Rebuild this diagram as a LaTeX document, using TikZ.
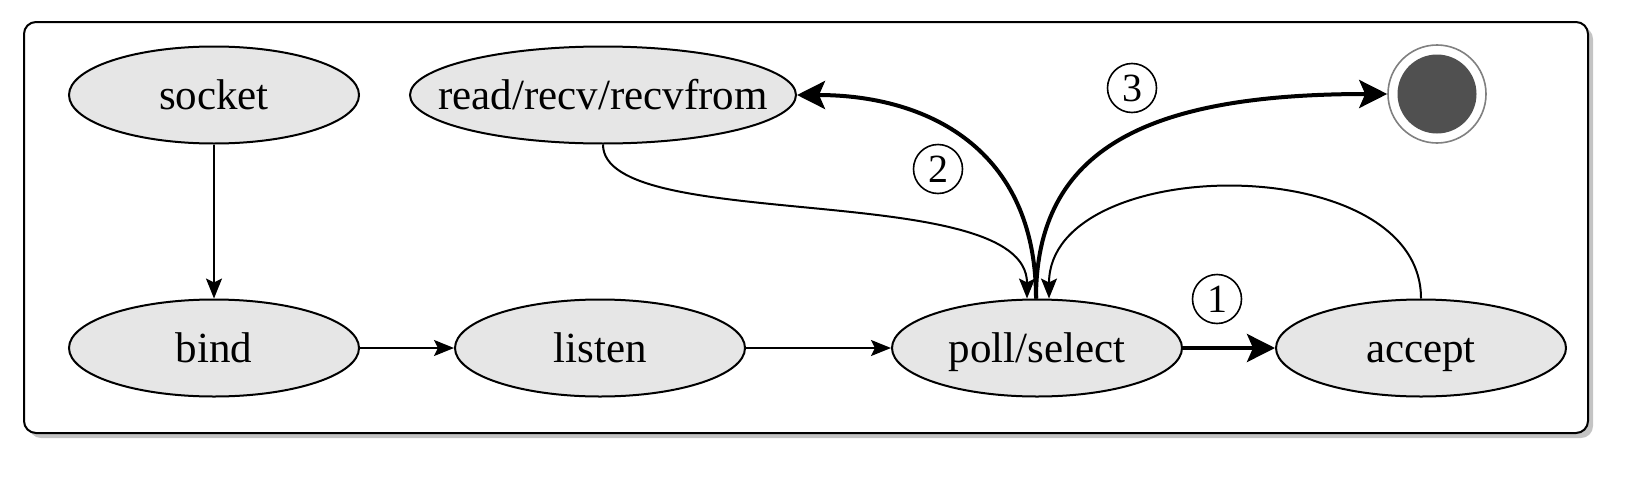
\documentclass[tikz,border=0pt]{standalone}
\usepackage{fontspec}
\setmainfont{Liberation Serif}
\usetikzlibrary{shapes.geometric,arrows.meta}
\definecolor{nodefill}{HTML}{E6E6E6}
\definecolor{endfill}{HTML}{505050}
\definecolor{endring}{HTML}{808080}
\definecolor{shadowc}{HTML}{C4C4C4}
\newcommand\zw[1]{\makebox[0pt]{#1}}
\begin{document}
\begin{tikzpicture}[x=0.5pt,y=-0.5pt,
  st/.style={ellipse,draw,line width=1pt,fill=nodefill,minimum width=145pt,minimum height=48.5pt,inner sep=0pt,text height=16pt,text depth=2pt,font=\fontsize{21.5}{26}\selectfont},
  edgethin/.style={line width=1pt,-{Stealth[length=10pt,width=8pt,inset=2pt]}},
  edgethick/.style={line width=2pt,-{Stealth[length=14pt,width=14pt,inset=3pt]}},
  num/.style={circle,draw,line width=0.8pt,minimum size=24.5pt,inner sep=0pt,font=\fontsize{20}{24}\selectfont}
]
\useasboundingbox (0,0) rectangle (1626,482);
\fill[shadowc,rounded corners=6pt] (29,27) rectangle (1593,438);
\draw[line width=1pt,fill=white,rounded corners=6pt] (24,22) rectangle (1588,433);

\node[st] (so) at (214,95) {\zw{socket}};
\node[st] (bi) at (214,348) {\zw{bind}};
\node[st] (li) at (600,348) {\zw{listen}};
\node[st] (po) at (1037,348) {\zw{poll/select}};
\node[st] (ac) at (1421,348) {\zw{accept}};
\node[st,minimum width=193pt] (rd) at (603,95) {\zw{read/recv/recvfrom}};
\node[circle,draw=endring,line width=0.8pt,minimum size=49pt,inner sep=0pt] (en) at (1437,94) {};
\fill[endfill] (en.center) circle[radius=19.75pt];

\draw[edgethin] (so) -- (bi);
\draw[edgethin] (bi) -- (li);
\draw[edgethin] (li) -- (po);
\draw[edgethick] (po) -- (ac);

\coordinate (pout) at ([xshift=-0.5pt]po.north);
\coordinate (pinl) at ([xshift=-5pt]po.north);
\coordinate (pinr) at ([xshift=6pt]po.north);

\draw[edgethick] (pout) .. controls +(0,-150) and +(130,0) .. (rd.east);
\draw[edgethick] (pout) .. controls +(0,-150) and +(-240,0) .. (en.west);
\draw[edgethin] (rd.south) .. controls +(0,90) and +(0,-120) .. (pinl);
\draw[edgethin] (ac.north) .. controls +(0,-150) and +(0,-146) .. (pinr);

\node[num] (n1) at (1217,299) {1};
\node[num] (n2) at (938,169) {2};
\node[num] (n3) at (1132,88) {3};
\end{tikzpicture}
\end{document}
